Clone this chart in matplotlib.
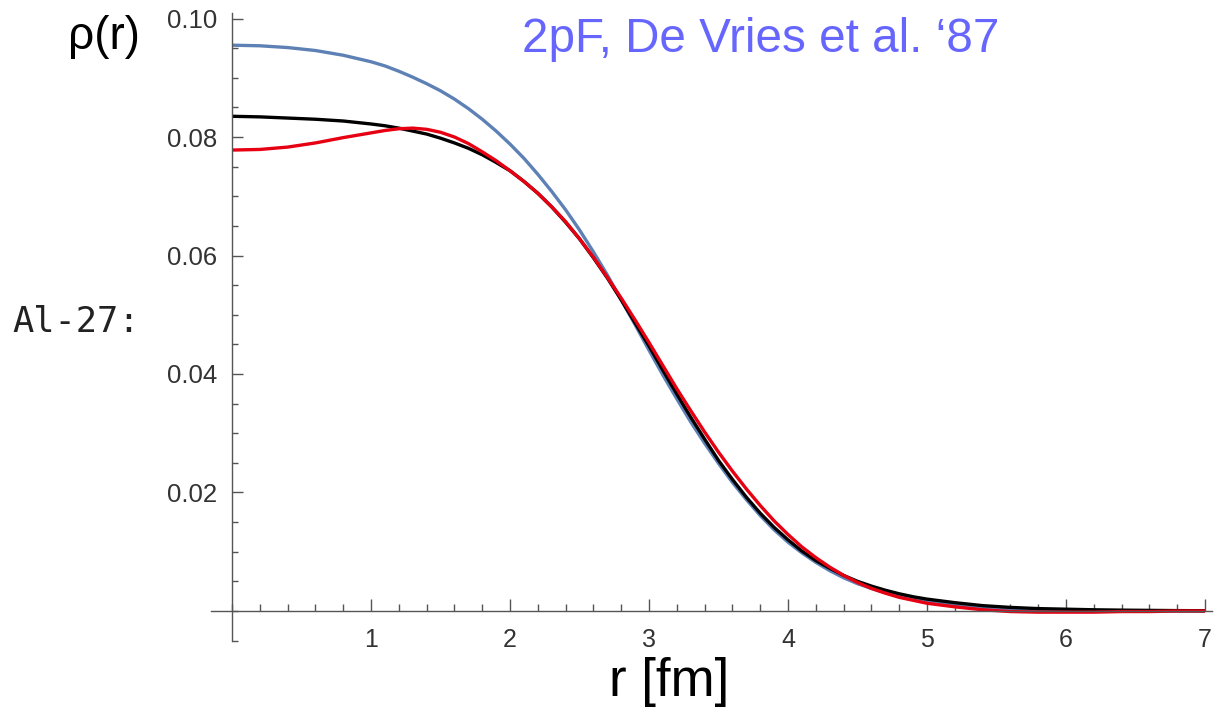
import matplotlib.pyplot as plt
from matplotlib.ticker import MultipleLocator, FixedLocator

# radius grid [fm] (finer where the curves bend) and densities
r = [0.0, 0.2, 0.4, 0.6, 0.8,
     1.0, 1.1, 1.2, 1.3, 1.4, 1.5, 1.6, 1.7, 1.8, 1.9,
     2.0, 2.1, 2.2, 2.3, 2.4, 2.5, 2.6, 2.7, 2.8, 2.9,
     3.0, 3.1, 3.2, 3.3, 3.4, 3.5, 3.6, 3.7, 3.8, 3.9,
     4.0, 4.1, 4.2, 4.3, 4.4, 4.5, 4.6, 4.7, 4.8, 4.9,
     5.0, 5.2, 5.4, 5.6, 5.8, 6.0, 6.2, 6.4, 6.6, 6.8, 7.0]

rho_blue = [0.0955, 0.0954, 0.0951, 0.0946, 0.0938,
            0.0927, 0.0920, 0.0911, 0.0901, 0.0890, 0.0878, 0.0864, 0.0848, 0.0830, 0.0810,
            0.0788, 0.0764, 0.0737, 0.0708, 0.0677, 0.0643, 0.0606, 0.0567, 0.0525, 0.0483,
            0.0440, 0.0398, 0.0358, 0.0319, 0.0283, 0.0249, 0.0217, 0.0188, 0.0161, 0.0137,
            0.0116, 0.0098, 0.0082, 0.0068, 0.0056, 0.0046, 0.0038, 0.0031, 0.0025, 0.0020,
            0.0016, 0.0010, 0.0006, 0.0004, 0.0002, 0.0001, 0.00005, 0.00003, 0.00002, 0.00001, 0.0]

rho_black = [0.0835, 0.0834, 0.0832, 0.0830, 0.0827,
             0.0822, 0.0819, 0.0815, 0.0810, 0.0805, 0.0798, 0.0790, 0.0781, 0.0770, 0.0757,
             0.0743, 0.0725, 0.0705, 0.0682, 0.0656, 0.0628, 0.0596, 0.0562, 0.0525, 0.0486,
             0.0447, 0.0406, 0.0366, 0.0327, 0.0290, 0.0254, 0.0222, 0.0192, 0.0165, 0.0141,
             0.0120, 0.0101, 0.0085, 0.0072, 0.0060, 0.0050, 0.0042, 0.0035, 0.0029, 0.0024,
             0.0020, 0.0014, 0.0009, 0.0006, 0.0004, 0.0003, 0.0002, 0.00014, 0.0001, 0.00006, 0.00004]

rho_red = [0.0778, 0.0779, 0.0783, 0.0790, 0.0799,
           0.0807, 0.0811, 0.0814, 0.0815, 0.0813, 0.0808, 0.0800, 0.0789, 0.0775, 0.0760,
           0.0743, 0.0725, 0.0705, 0.0682, 0.0657, 0.0628, 0.0597, 0.0563, 0.0528, 0.0491,
           0.0453, 0.0414, 0.0375, 0.0338, 0.0302, 0.0268, 0.0236, 0.0206, 0.0178, 0.0152,
           0.0129, 0.0108, 0.0090, 0.0074, 0.0060, 0.0048, 0.0038, 0.0030, 0.0023, 0.0018,
           0.0013, 0.0007, 0.0002, -0.0001, -0.0002, -0.0002, -0.0002, -0.0001, -0.0001, 0.0, 0.0]

x_ticks = [1, 2, 3, 4, 5, 6, 7]
y_ticks = [0.02, 0.04, 0.06, 0.08, 0.10]
y_tick_labels = ['0.02', '0.04', '0.06', '0.08', '0.10']

plt.rcParams['font.family'] = ['Liberation Sans', 'DejaVu Sans']

fig = plt.figure(figsize=(12.16, 7.12), dpi=100)
ax = fig.add_axes([0.1737, 0.1003, 0.823, 0.882])

line_kw = dict(lw=2.4, solid_joinstyle='round', solid_capstyle='butt')
ax.plot(r, rho_blue, color='#5e81b5', **line_kw)
ax.plot(r, rho_black, color='black', **line_kw)
ax.plot(r, rho_red, color='#e60012', **line_kw)

ax.set_xlim(-0.15, 7.05)
ax.set_ylim(-0.005, 0.101)

# Mathematica style axes crossing at the origin
for s in ['top', 'right']:
    ax.spines[s].set_visible(False)
ax.spines['left'].set_position(('data', 0))
ax.spines['bottom'].set_position(('data', 0))
for s in ['left', 'bottom']:
    ax.spines[s].set_color('#555555')
    ax.spines[s].set_linewidth(1.0)

ax.xaxis.set_major_locator(FixedLocator(x_ticks))
ax.xaxis.set_minor_locator(MultipleLocator(0.2))
ax.set_yticks(y_ticks)
ax.set_yticklabels(y_tick_labels)
ax.yaxis.set_minor_locator(MultipleLocator(0.005))

ax.tick_params(which='both', direction='in', color='#555555', width=1.0, labelcolor='#333333')
ax.tick_params(axis='x', which='major', length=9, pad=12, labelsize=18)
ax.tick_params(axis='x', which='minor', length=5)
ax.tick_params(axis='y', which='major', length=8, pad=11, labelsize=18.5)
ax.tick_params(axis='y', which='minor', length=4.5)

fig.text(0.0855, 0.948, 'ρ(r)', fontsize=33, ha='center', va='center', color='black')
fig.text(0.429, 0.944, '2pF, De Vries et al. \u201887', fontsize=34.3, ha='left', va='center',
         color='#6666ff')
fig.text(0.0099, 0.548, 'Al-27:', fontsize=25.5, ha='left', va='center', color='#222222',
         family='DejaVu Sans Mono')
fig.text(0.550, 0.042, 'r [fm]', fontsize=38, ha='center', va='center', color='black')

fig.savefig('out.png', dpi=100, facecolor='white')
